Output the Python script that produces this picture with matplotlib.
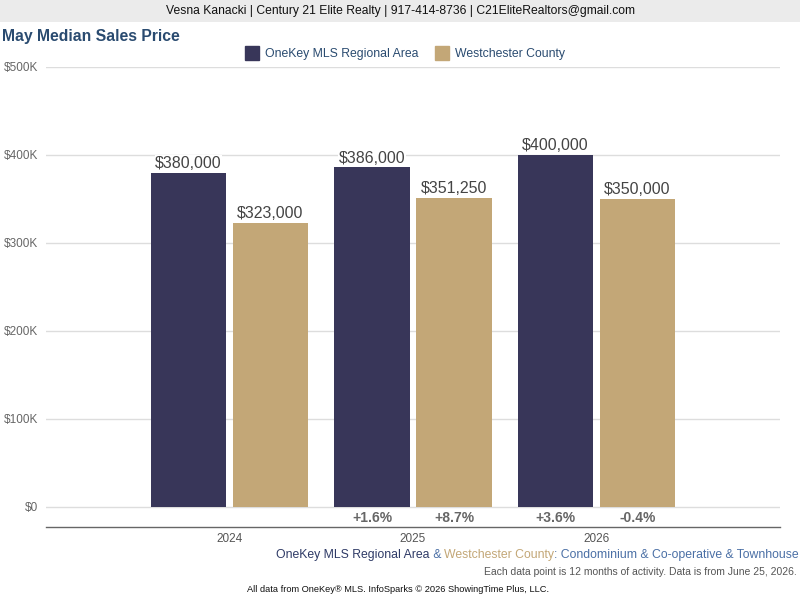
import matplotlib
matplotlib.use('Agg')
import matplotlib.pyplot as plt
from matplotlib.lines import Line2D
import numpy as np

plt.rcParams['font.family'] = ['Liberation Sans', 'DejaVu Sans']

##### data #####
years = ['2024', '2025', '2026']
onekey = [380000, 386000, 400000]
westchester = [323000, 351250, 350000]
onekey_chg = [None, '+1.6%', '+3.6%']
west_chg = [None, '+8.7%', '-0.4%']
yticks = [0, 100000, 200000, 300000, 400000, 500000]
ytick_labels = ['$0', '$100K', '$200K', '$300K', '$400K', '$500K']

dark = '#383659'
tan = '#c3a777'
title_blue = '#2a4b70'

fig = plt.figure(figsize=(8, 6), dpi=100)
fig.patch.set_facecolor('white')

# header band
fig.patches.append(plt.Rectangle((0, 1 - 22 / 600), 1, 22 / 600, transform=fig.transFigure,
                                 facecolor='#ebebeb', edgecolor='none', zorder=0))
fig.text(0.5, 1 - 11 / 600, 'Vesna Kanacki | Century 21 Elite Realty | 917-414-8736 | C21EliteRealtors@gmail.com',
         ha='center', va='center', fontsize=8.7, color='#111111')

fig.text(2 / 800, 1 - 36 / 600, 'May Median Sales Price', ha='left', va='center',
         fontsize=11.3, fontweight='bold', color=title_blue)

ax = fig.add_axes([46 / 800, 1 - 526.5 / 600, 734 / 800, (526.5 - 67) / 600])
x = np.arange(len(years))
w = 0.41
off = 0.2235
b1 = ax.bar(x - off, onekey, w, color=dark, zorder=3)
b2 = ax.bar(x + off, westchester, w, color=tan, zorder=3)

for bars, vals in [(b1, onekey), (b2, westchester)]:
    for r, v in zip(bars, vals):
        ax.text(r.get_x() + r.get_width() / 2, v + 2000, '${:,}'.format(v), ha='center', va='bottom',
                fontsize=11.5, color='#444444', zorder=2,
                bbox=dict(facecolor='white', edgecolor='none', pad=0.5))

for i in range(len(years)):
    if onekey_chg[i]:
        ax.text(x[i] - off, -13000, onekey_chg[i], ha='center', va='center', fontsize=10,
                fontweight='bold', color='#666666')
    if west_chg[i]:
        ax.text(x[i] + off, -13000, west_chg[i], ha='center', va='center', fontsize=10,
                fontweight='bold', color='#666666')

ax.set_xlim(-1.0, 3.0)
ax.set_ylim(-22400, 500000)
ax.set_yticks(yticks)
ax.set_yticklabels(ytick_labels)
ax.set_xticks(x)
ax.set_xticklabels(years)
ax.tick_params(axis='y', length=0, labelsize=8.5, labelcolor='#666666', pad=5.8)
ax.tick_params(axis='x', length=0, labelsize=8.5, labelcolor='#555555', pad=4.5)
for lbl in ax.get_yticklabels():
    lbl.set_verticalalignment('center_baseline')
ax.yaxis.grid(True, color='#dddddd', linewidth=1, zorder=0)
ax.set_axisbelow(True)
for s in ['top', 'left', 'right']:
    ax.spines[s].set_visible(False)
ax.spines['bottom'].set_color('#666666')
ax.spines['bottom'].set_linewidth(1)

handles = [Line2D([], [], marker='s', linestyle='none', markersize=10, color=dark),
           Line2D([], [], marker='s', linestyle='none', markersize=10, color=tan)]
fig.legend(handles, ['OneKey MLS Regional Area', 'Westchester County'], loc='center',
           bbox_to_anchor=(0.503, 1 - 54 / 600), ncol=2, frameon=False, fontsize=8.8,
           handletextpad=0.1, columnspacing=0.9, labelcolor=title_blue)

# multi-coloured footnote line, right aligned
pieces = [('OneKey MLS Regional Area', '#2e3a66'), (' & ', '#4a6fa5'),
          ('Westchester County', '#c3a777'), (': Condominium & Co-operative & Townhouse', '#4a6fa5')]
fig.canvas.draw()
renderer = fig.canvas.get_renderer()
texts = []
total = 0
for s, c in pieces:
    t = fig.text(0, 1 - 555 / 600, s, ha='left', va='center', fontsize=8.8, color=c)
    wpx = t.get_window_extent(renderer).width
    texts.append((t, wpx))
    total += wpx
xpos = 799 - total
for t, wpx in texts:
    t.set_x(xpos / 800)
    xpos += wpx

fig.text(797 / 800, 1 - 572 / 600, 'Each data point is 12 months of activity. Data is from June 25, 2026.',
         ha='right', va='center', fontsize=7.5, color='#555555')
fig.text(247 / 800, 1 - 590 / 600, 'All data from OneKey\u00ae MLS. InfoSparks \u00a9 2026 ShowingTime Plus, LLC.',
         ha='left', va='center', fontsize=6.7, color='#111111')

fig.savefig('out.png', dpi=100)
